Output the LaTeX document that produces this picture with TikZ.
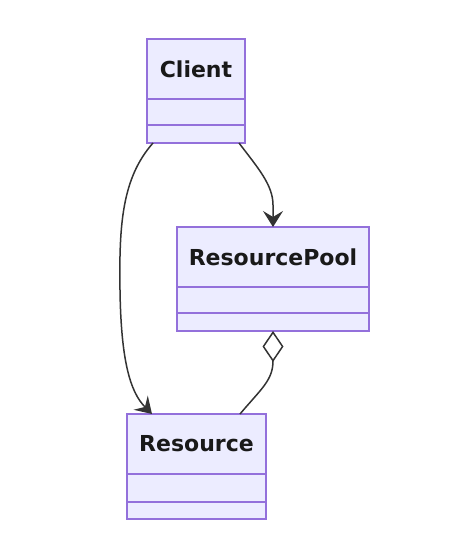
\documentclass[tikz,border=0pt]{standalone}
\usepackage{fontspec}
\setmainfont{DejaVu Sans}
\usetikzlibrary{positioning,arrows.meta}
\definecolor{classfill}{HTML}{ECECFF}
\definecolor{classline}{HTML}{9370DB}
\definecolor{edgeline}{HTML}{333333}
\begin{document}
\begin{tikzpicture}[
		x=1pt, y=-1pt,
		every node/.style={font=\fontsize{22}{26}\selectfont\bfseries, text=black!90},
		head/.style={
			draw=classline, fill=classfill, line width=1.2pt,
			minimum height=60pt, inner sep=0pt, outer sep=0pt,
		},
		part/.style={
			draw=classline, fill=classfill, line width=1.2pt,
			inner sep=0pt, outer sep=0pt,
		},
		arrow/.style={-{Stealth[length=16pt,width=20pt,inset=6pt]}, draw=edgeline, line width=1.5pt},
		aggr/.style={{Diamond[open,length=31pt,width=21pt]}-, draw=edgeline, line width=1.5pt},
		]
		\useasboundingbox (0,0) rectangle (454,539);
		
		\node[head, minimum width=98pt]  (client)      at (196, 69)   {Client};
		\node[part, minimum width=98pt, minimum height=26pt, below=0pt of client]      (clientattr) {};
		\node[part, minimum width=98pt, minimum height=18pt, below=0pt of clientattr]  (clientops)  {};
		
		\node[head, minimum width=192pt] (pool)        at (273, 257)  {ResourcePool};
		\node[part, minimum width=192pt, minimum height=26pt, below=0pt of pool]       (poolattr)   {};
		\node[part, minimum width=192pt, minimum height=18pt, below=0pt of poolattr]   (poolops)    {};
		
		\node[head, minimum width=139pt] (resource)    at (196.5, 444) {Resource};
		\node[part, minimum width=139pt, minimum height=28pt, below=0pt of resource]   (resattr)    {};
		\node[part, minimum width=139pt, minimum height=17pt, below=0pt of resattr]    (resops)     {};
		
		\draw[arrow] ([xshift=-6pt]clientops.south east)
		.. controls (258,168) and (273,185) .. (273,205) -- (pool.north);
		\draw[arrow] ([xshift=6pt]clientops.south west)
		.. controls (122,178) and (119,225) .. (120,290)
		.. controls (121,360) and (130,392) .. ([xshift=25pt]resource.north west);
		\draw[aggr] (poolops.south) .. controls (273,380) and (262,388) .. ([xshift=-26pt]resource.north east);
		
	\end{tikzpicture}
\end{document}
